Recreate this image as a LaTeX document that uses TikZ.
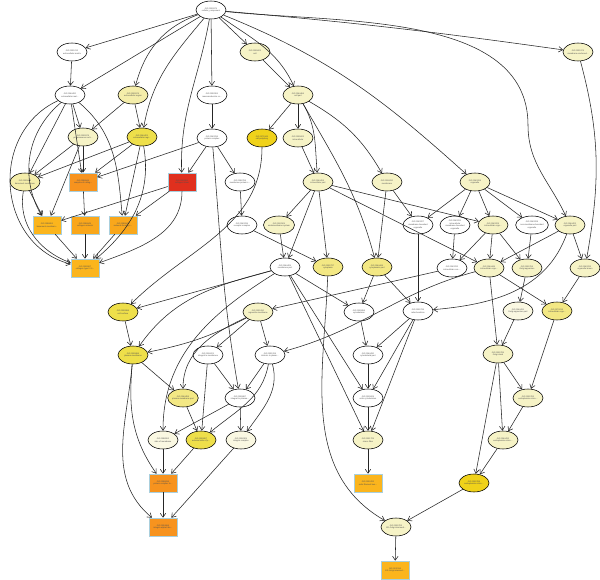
\documentclass[tikz,border=0pt]{standalone}
\usepackage{fontspec}
\setsansfont{Liberation Sans}
\usetikzlibrary{shapes.geometric,arrows.meta}
\definecolor{ly}{HTML}{F6F3C6}
\definecolor{lyb}{HTML}{F4EDAA}
\definecolor{cr}{HTML}{FAF8E2}
\definecolor{my}{HTML}{F3E884}
\definecolor{yl}{HTML}{EEDF4A}
\definecolor{gd}{HTML}{F0D21A}
\definecolor{org}{HTML}{F7931E}
\definecolor{yor}{HTML}{FBB51D}
\definecolor{yor2}{HTML}{F9A71B}
\definecolor{rd}{HTML}{E0301E}
\definecolor{sqb}{HTML}{A9CFDD}
\definecolor{txt}{HTML}{505050}
\newcommand\gofont{\sffamily\fontsize{2.1pt}{2.6pt}\selectfont}
\tikzset{
  go/.style={ellipse, draw=black, line width=0.55pt, minimum width=30pt, minimum height=18pt, inner sep=0pt, align=center, font=\gofont, text=txt},
  sq/.style={rectangle, draw=sqb, line width=0.55pt, minimum width=28pt, minimum height=18pt, inner sep=0pt, align=center, font=\gofont, text=txt},
  arr/.style={draw=black!85, line width=0.55pt, -{Straight Barb[length=4pt,width=5.5pt]}}
}
\begin{document}
\begin{tikzpicture}[x=1pt,y=1pt]
\useasboundingbox[fill=white] (0,0) rectangle (600,-580);
% row 0
\node[go,fill=white] (r0) at (211,-10) {GO:0005575\\cellular\_component};
% row a
\node[go,fill=white] (a1) at (72,-52) {GO:0031012\\extracellular matrix};
\node[go,fill=ly] (a2) at (255,-52) {GO:0005623\\cell};
\node[go,fill=ly] (a3) at (578,-52) {GO:0031974\\membrane-enclosed...};
% row b
\node[go,fill=white] (b1) at (70,-95) {GO:0044420\\extracellular mat...};
\node[go,fill=lyb] (b2) at (133,-95) {GO:0005576\\extracellular region};
\node[go,fill=white] (b3) at (212,-95) {GO:0032991\\macromolecular co...};
\node[go,fill=ly] (b4) at (298,-95) {GO:0044464\\cell part};
% row c
\node[go,fill=ly] (c1) at (83,-137) {GO:0005578\\proteinaceous extr...};
\node[go,fill=yl] (c2) at (142,-137) {GO:0044421\\extracellular regi...};
\node[go,fill=white] (c3) at (212,-138) {GO:0043234\\protein complex};
\node[go,fill=gd] (c4) at (262,-138) {GO:0071944\\cell periphery};
\node[go,fill=ly] (c5) at (298,-138) {GO:0005622\\intracellular};
% row d
\node[go,fill=lyb] (d1) at (25,-182) {GO:0005604\\basement membrane};
\node[sq,fill=org] (d2) at (83,-182) {GO:0098644\\complex of collag...};
\node[sq,fill=rd] (d3) at (182,-182) {GO:0005581\\collagen trimer};
\node[go,fill=white] (d4) at (240,-182) {GO:0098796\\membrane protein c...};
\node[go,fill=ly] (d5) at (318,-182) {GO:0044424\\intracellular part};
\node[go,fill=ly] (d6) at (387,-182) {GO:0016020\\membrane};
\node[go,fill=ly] (d7) at (475,-182) {GO:0043226\\organelle};
% row e
\node[sq,fill=yor] (e1) at (47,-225) {GO:0098651\\basement membran...};
\node[sq,fill=yor2] (e2) at (85,-225) {GO:0098645\\collagen network};
\node[sq,fill=yor2] (e3) at (123,-225) {GO:0098642\\network-forming c...};
\node[go,fill=white] (e4) at (242,-225) {GO:0043235\\receptor complex};
\node[go,fill=ly] (e5) at (279,-225) {GO:0012505\\endomembrane system};
\node[go,fill=white] (e6) at (418,-225) {GO:0043227\\membrane-bounded\\organelle};
\node[go,fill=white] (e7) at (455,-225) {GO:0043231\\intracellular\\membrane-bounded\\organelle};
\node[go,fill=ly] (e8) at (493,-225) {GO:0043229\\intracellular orga...};
\node[go,fill=white] (e9) at (532,-225) {GO:0043228\\non-membrane-bounded\\organelle};
\node[go,fill=ly] (e10) at (570,-225) {GO:0044422\\organelle part};
% row f
\node[sq,fill=yor] (f1) at (85,-268) {GO:0005587\\collagen type IV tr...};
\node[go,fill=white] (f2) at (285,-267) {GO:0044425\\membrane part};
\node[go,fill=my] (f3) at (328,-267) {GO:0005737\\cytoplasm};
\node[go,fill=my] (f4) at (377,-267) {GO:0044444\\cytoplasmic part};
\node[go,fill=white] (f5) at (452,-268) {GO:0043232\\intracellular non-...};
\node[go,fill=ly] (f6) at (489,-268) {GO:0044446\\intracellular orga...};
\node[go,fill=ly] (f7) at (527,-268) {GO:0005794\\Golgi apparatus};
\node[go,fill=ly] (f8) at (585,-268) {GO:0043233\\organelle lumen};
% row g
\node[go,fill=yl] (g1) at (123,-312) {GO:0009986\\cell surface};
\node[go,fill=ly] (g2) at (258,-312) {GO:0031090\\organelle membrane};
\node[go,fill=white] (g3) at (359,-312) {GO:0005856\\cytoskeleton};
\node[go,fill=white] (g4) at (418,-311) {GO:0005739\\mitochondrion};
\node[go,fill=cr] (g5) at (518,-311) {GO:0044431\\Golgi apparatus part};
\node[go,fill=my] (g6) at (557,-311) {GO:0070013\\intracellular orga...};
% row h
\node[go,fill=yl] (h1) at (133,-355) {GO:0005886\\plasma membrane};
\node[go,fill=white] (h2) at (208,-355) {GO:0016021\\integral to membrane};
\node[go,fill=white] (h3) at (270,-355) {GO:0031226\\intrinsic to plasm...};
\node[go,fill=white] (h4) at (368,-355) {GO:0044430\\cytoskeletal part};
\node[go,fill=ly] (h5) at (498,-354) {GO:0005795\\Golgi stack};
% row i
\node[go,fill=my] (i1) at (183,-398) {GO:0044459\\plasma membrane part};
\node[go,fill=white] (i2) at (240,-398) {GO:0005887\\integral to plasma...};
\node[go,fill=white] (i3) at (368,-398) {GO:0015629\\actin cytoskeleton};
\node[go,fill=ly] (i4) at (528,-398) {GO:0005783\\endoplasmic reticu...};
% row j
\node[go,fill=cr] (j1) at (163,-440) {GO:0098552\\side of membrane};
\node[go,fill=yl] (j2) at (201,-440) {GO:0009897\\external side of p...};
\node[go,fill=cr] (j3) at (241,-440) {GO:0008305\\integrin complex};
\node[go,fill=ly] (j4) at (368,-440) {GO:0001725\\stress fiber};
\node[go,fill=ly] (j5) at (503,-440) {GO:0044432\\endoplasmic reticu...};
% row k
\node[sq,fill=org] (k1) at (163,-483) {GO:0098636\\protein complex in...};
\node[sq,fill=yor] (k2) at (368,-483) {GO:0032432\\actin filament bun...};
\node[go,fill=gd] (k3) at (474,-483) {GO:0005788\\endoplasmic reticu...};
% row l, m
\node[sq,fill=org] (l1) at (163,-527) {GO:0034666\\integrin alpha2-be...};
\node[go,fill=ly] (l2) at (396,-527) {GO:0005793\\ER-Golgi intermedi...};
\node[sq,fill=yor] (m1) at (395,-570) {GO:0033116\\ER-Golgi intermed...};
\coordinate (rE) at (528,-125);
% ---- edges ----
\draw[arr] (r0) -- (a1);
\draw[arr] (r0) -- (b1);
\draw[arr] (r0) to[out=200,in=75] (b2);
\draw[arr] (r0) to[out=230,in=80] (c2);
\draw[arr] (r0) to[out=260,in=92] (d3);
\draw[arr] (r0) -- (b3);
\draw[arr] (r0) -- (a2);
\draw[arr] (r0) to[out=-35,in=115] (b4);
\draw[arr] (r0) to[out=-22,in=138] (d7);
\draw[arr] (r0) to[out=-5,in=172] (a3);
\draw[arr] (r0) to[out=-6,in=90,looseness=0.9] (rE) to[out=-90,in=115] (e10);
\draw[arr] (a1) -- (b1);
\draw[arr] (b1) -- (c1);
\draw[arr] (b1) -- (d1);
\draw[arr] (b1) -- (d2);
\draw[arr] (b1) to[out=220,in=120] (e1);
\draw[arr] (b1) to[out=205,in=165,looseness=1.2] (f1);
\draw[arr] (b1) to[out=-40,in=95] (e3);
\draw[arr] (b2) -- (c1);
\draw[arr] (b2) -- (c2);
\draw[arr] (c1) -- (d1);
\draw[arr] (c1) -- (d2);
\draw[arr] (c1) -- (e1);
\draw[arr] (c2) -- (d1);
\draw[arr] (c2) -- (d2);
\draw[arr] (c2) -- (e3);
\draw[arr] (c2) to[out=-80,in=40] (f1);
\draw[arr] (c3) -- (d2);
\draw[arr] (c3) -- (d3);
\draw[arr] (c3) -- (d4);
\draw[arr] (c3) to[out=-85,in=100] (i2);
\draw[arr] (a2) -- (b4);
\draw[arr] (b3) -- (c3);
\draw[arr] (b4) -- (c4);
\draw[arr] (b4) -- (c5);
\draw[arr] (b4) to[out=-60,in=95] (d5);
\draw[arr] (b4) to[out=-30,in=120] (d6);
\draw[arr] (b4) to[out=-60,in=105] (f4);
\draw[arr] (c4) to[out=-90,in=45] (g1);
\draw[arr] (c5) -- (d5);
\draw[arr] (d1) -- (e1);
\draw[arr] (d1) to[out=260,in=160] (f1);
\draw[arr] (d2) -- (e2);
\draw[arr] (d3) -- (e1);
\draw[arr] (d3) -- (e3);
\draw[arr] (d3) to[out=-90,in=20] (f1);
\draw[arr] (d4) -- (e4);
\draw[arr] (d5) -- (e5);
\draw[arr] (d5) -- (f2);
\draw[arr] (d5) -- (f3);
\draw[arr] (d5) -- (e8);
\draw[arr] (d5) -- (f6);
\draw[arr] (d6) -- (e6);
\draw[arr] (d6) -- (f4);
\draw[arr] (d7) -- (e6);
\draw[arr] (d7) -- (e7);
\draw[arr] (d7) -- (e8);
\draw[arr] (d7) -- (e9);
\draw[arr] (d7) -- (e10);
\draw[arr] (a3) to[out=-75,in=80] (f8);
\draw[arr] (e1) -- (f1);
\draw[arr] (e2) -- (f1);
\draw[arr] (e3) -- (f1);
\draw[arr] (e4) -- (f3);
\draw[arr] (e5) -- (f2);
\draw[arr] (e6) -- (g4);
\draw[arr] (e7) -- (f5);
\draw[arr] (e8) -- (f5);
\draw[arr] (e8) -- (f6);
\draw[arr] (e8) -- (f7);
\draw[arr] (e9) -- (f7);
\draw[arr] (e10) -- (f6);
\draw[arr] (e10) -- (f8);
\draw[arr] (e10) to[out=-110,in=5] (g4);
\draw[arr] (f2) -- (g1);
\draw[arr] (f2) to[out=195,in=55] (h1);
\draw[arr] (f2) to[out=212,in=90] (j1);
\draw[arr] (f2) -- (g3);
\draw[arr] (f2) -- (i3);
\draw[arr] (f2) -- (j4);
\draw[arr] (f3) to[out=-92,in=150] (l2);
\draw[arr] (f4) -- (g3);
\draw[arr] (f4) -- (g4);
\draw[arr] (f5) -- (g2);
\draw[arr] (f6) to[out=195,in=15] (h3);
\draw[arr] (f6) -- (g6);
\draw[arr] (f6) -- (h5);
\draw[arr] (f7) -- (g5);
\draw[arr] (f8) -- (g6);
\draw[arr] (g1) -- (h1);
\draw[arr] (g2) to[bend left=8] (h1);
\draw[arr] (g2) -- (h2);
\draw[arr] (g2) -- (h3);
\draw[arr] (g2) to[out=205,in=90] (i1);
\draw[arr] (g3) -- (h4);
\draw[arr] (g4) -- (h4);
\draw[arr] (g4) -- (i3);
\draw[arr] (g4) -- (j4);
\draw[arr] (g5) -- (h5);
\draw[arr] (g6) -- (i4);
\draw[arr] (h1) -- (i1);
\draw[arr] (h1) to[out=-95,in=125] (k1);
\draw[arr] (h1) to[out=-95,in=140] (l1);
\draw[arr] (h2) -- (i2);
\draw[arr] (h2) -- (j2);
\draw[arr] (h3) -- (i2);
\draw[arr] (h3) to[out=-100,in=40] (j2);
\draw[arr] (h3) to[out=-75,in=55] (j3);
\draw[arr] (h4) -- (i3);
\draw[arr] (h5) -- (i4);
\draw[arr] (h5) -- (j5);
\draw[arr] (h5) -- (k3);
\draw[arr] (i1) -- (j2);
\draw[arr] (i2) -- (j1);
\draw[arr] (i2) -- (j3);
\draw[arr] (i3) -- (j4);
\draw[arr] (i4) -- (j5);
\draw[arr] (j1) -- (k1);
\draw[arr] (j2) -- (k1);
\draw[arr] (j3) -- (l1);
\draw[arr] (j4) -- (k2);
\draw[arr] (j5) -- (k3);
\draw[arr] (k1) -- (l1);
\draw[arr] (k3) -- (l2);
\draw[arr] (l2) -- (m1);
\end{tikzpicture}
\end{document}
